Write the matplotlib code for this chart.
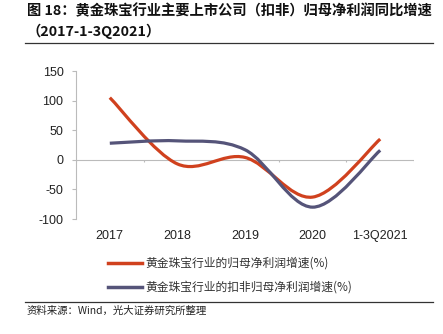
import numpy as np
import matplotlib
matplotlib.use("Agg")
import matplotlib.pyplot as plt
from matplotlib.path import Path
from matplotlib.patches import PathPatch
from matplotlib.lines import Line2D

plt.rcParams['font.family'] = ['Noto Sans CJK SC', 'DejaVu Sans']

# data
categories = ['2017', '2018', '2019', '2020', '1-3Q2021']
net_profit = [105, -7, 4, -63, 35]          # 归母净利润增速
net_profit_deducted = [28, 32, 17, -80, 16]  # 扣非归母净利润增速
yticks = [-100, -50, 0, 50, 100, 150]

series_names = ['黄金珠宝行业的归母净利润增速(%)', '黄金珠宝行业的扣非归母净利润增速(%)']
colors = ['#D0411E', '#555479']

title = '图 18：黄金珠宝行业主要上市公司（扣非）归母净利润同比增速\n（2017-1-3Q2021）'
source = '资料来源：Wind，光大证券研究所整理'


def smooth_path(xs, ys):
    # Excel-style smoothed line: cubic bezier segments through the points
    xs = np.asarray(xs, float)
    ys = np.asarray(ys, float)
    n = len(xs)
    verts = [(xs[0], ys[0])]
    codes = [Path.MOVETO]
    for i in range(n - 1):
        x0, y0 = (xs[i - 1], ys[i - 1]) if i > 0 else (xs[i], ys[i])
        x3, y3 = (xs[i + 2], ys[i + 2]) if i + 2 < n else (xs[i + 1], ys[i + 1])
        c1 = (xs[i] + (xs[i + 1] - x0) / 6, ys[i] + (ys[i + 1] - y0) / 6)
        c2 = (xs[i + 1] - (x3 - xs[i]) / 6, ys[i + 1] - (y3 - ys[i]) / 6)
        verts += [c1, c2, (xs[i + 1], ys[i + 1])]
        codes += [Path.CURVE4] * 3
    return Path(verts, codes)


fig = plt.figure(figsize=(4.43, 3.34), dpi=100)
ax = fig.add_axes([76 / 443, 1 - 219 / 334, (414 - 76) / 443, (219 - 71) / 334])

x = np.arange(len(categories))
for vals, c in zip([net_profit, net_profit_deducted], colors):
    ax.add_patch(PathPatch(smooth_path(x, vals), facecolor='none', edgecolor=c,
                           lw=2.3, capstyle='butt', zorder=3))

ax.set_xlim(-0.5, len(categories) - 0.5)
ax.set_ylim(-100, 150)
ax.set_yticks(yticks)
ax.set_yticklabels([str(v) for v in yticks], family='Liberation Sans', fontsize=9, color='#222222')
ax.set_xticks(x)
ax.set_xticklabels(categories, family='Liberation Sans', fontsize=9, color='#222222')
ax.tick_params(axis='x', length=0, pad=8)
ax.tick_params(axis='y', length=3, width=0.8, color='#BBBBBB', pad=6)

for s in ['top', 'right', 'bottom']:
    ax.spines[s].set_visible(False)
ax.spines['left'].set_color('#BBBBBB')
ax.spines['left'].set_linewidth(0.8)
ax.axhline(0, color='#BBBBBB', lw=0.8, zorder=1)
ax.vlines(np.arange(-0.5, len(categories)), 0, -4, color='#BBBBBB', lw=0.8, zorder=1)

# title and rules
fig.text(27 / 443, 1 - 4 / 334, title, fontsize=10.3, fontweight='bold', color='#111111',
         va='top', ha='left', linespacing=1.4)
fig.add_artist(Line2D([25 / 443, 433 / 443], [1 - 43 / 334] * 2, color='#333333', lw=0.9))
fig.add_artist(Line2D([25 / 443, 433 / 443], [1 - 301.5 / 334] * 2, color='#333333', lw=0.9))
fig.text(27 / 443, 1 - 311 / 334, source, fontsize=7.5, color='#222222', va='center', ha='left')

# legend
for i, (name, c) in enumerate(zip(series_names, colors)):
    yy = 1 - (263 + 24 * i) / 334
    fig.add_artist(Line2D([108 / 443, 142 / 443], [yy, yy], color=c, lw=2.5))
    fig.text(145 / 443, yy, name, fontsize=8.5, color='#333333', va='center', ha='left')

fig.savefig('out.png', dpi=100)
